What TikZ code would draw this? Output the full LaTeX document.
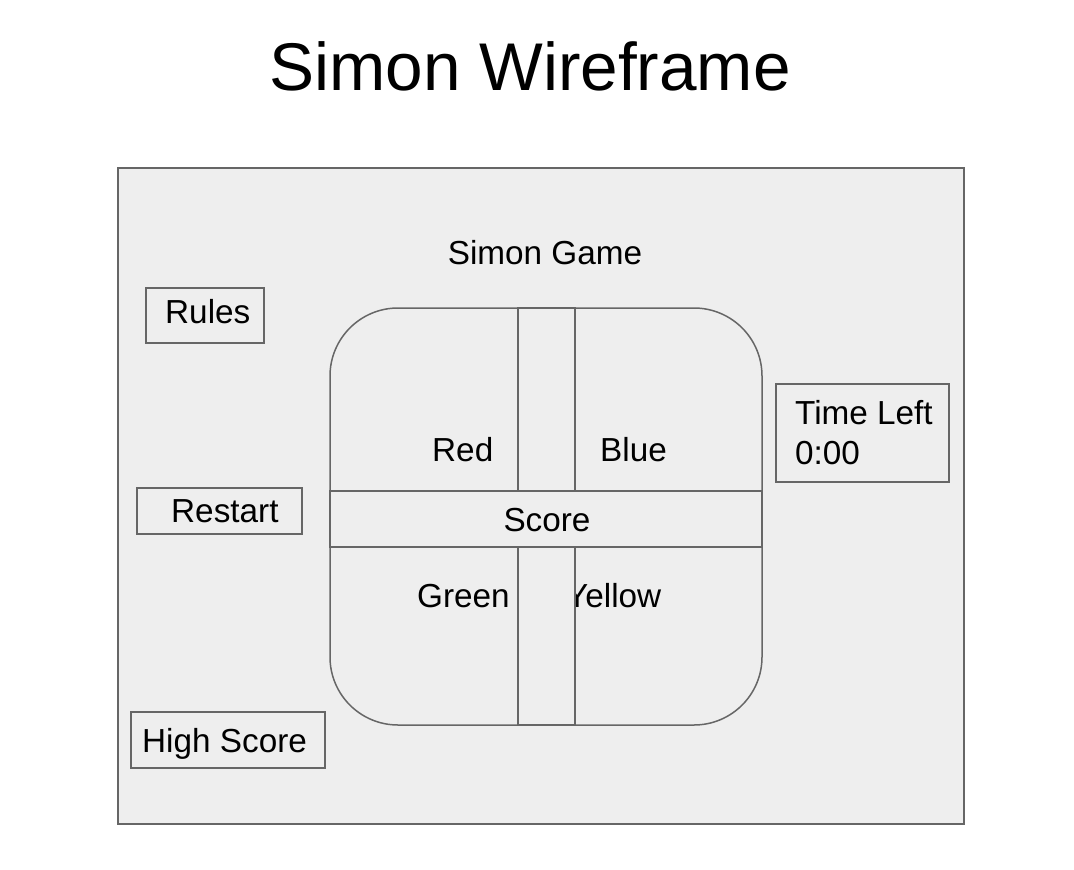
\documentclass[tikz,border=0pt]{standalone}
\usepackage{fontspec}
\setmainfont{Liberation Sans}
\definecolor{panel}{HTML}{EEEEEE}
\definecolor{edge}{HTML}{666666}
\begin{document}
\begin{tikzpicture}[x=1pt,y=-1pt,
  frame/.style={draw=edge,line width=1.5pt,fill=panel},
  lbl/.style={inner sep=0pt,anchor=base west,font=\fontsize{33.3}{40}\selectfont},
  btn/.style={draw=edge,line width=1.5pt,fill=panel,inner sep=0pt}]
\useasboundingbox (0,0) rectangle (1074,870);
\fill[white] (0,0) rectangle (1074,870);

% title
\node[inner sep=0pt,anchor=base,font=\fontsize{67.5}{80}\selectfont] (title) at (530,90) {Simon Wireframe};

% screen
\draw[frame] (118,168) rectangle (964,824);
\node[lbl,anchor=base] (game) at (545,264) {Simon Game};

% side buttons
\draw[frame] (146,288) rectangle (264,343);
\node[lbl] (rules) at (165,323) {Rules};
\draw[frame] (137,488) rectangle (302,534);
\node[lbl] (restart) at (171,522) {Restart};
\draw[frame] (131,712) rectangle (325,768);
\node[lbl] (high) at (142,752) {High Score};
\draw[frame] (776,384) rectangle (949,482);
\node[lbl,align=left,anchor=north west] (time) at (795,400) {Time Left\\0:00};

% game pad
\draw[frame,rounded corners=68pt] (330,308) rectangle (762,725);
\node[lbl] (red) at (432,461) {Red};
\node[lbl] (blue) at (600,461) {Blue};
\node[lbl] (green) at (417,607) {Green};
\node[lbl] (yellow) at (566,607) {Yellow};

% centre strips and score band
\draw[frame] (518,308) rectangle (575,491);
\draw[frame] (518,547) rectangle (575,725);
\draw[frame] (330,491) rectangle (762,547);
\node[lbl,anchor=base] (score) at (547,531) {Score};
\end{tikzpicture}
\end{document}
